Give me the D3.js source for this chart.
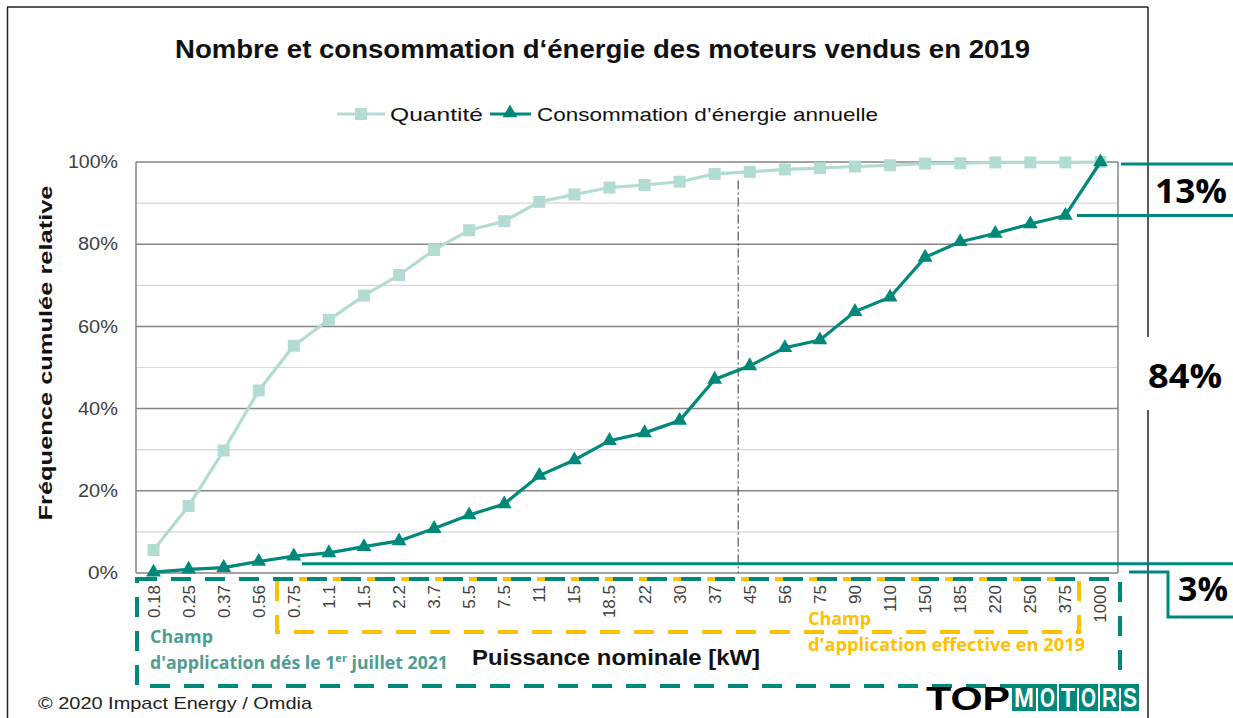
<!DOCTYPE html>
<html>
<head>
<meta charset="utf-8">
<script src="https://cdn.jsdelivr.net/npm/d3@7"></script>
<style>
  body { margin: 0; background: #fff; }
  text { font-family: "Liberation Sans", Arial, sans-serif; }
  .calibri { font-family: "Open Sans", "Noto Sans", sans-serif; }
</style>
</head>
<body>
<div id="chart"></div>
<script>
// values (cumulative %)
var categories = ["0.18", "0.25", "0.37", "0.56", "0.75", "1.1", "1.5", "2.2", "3.7", "5.5", "7.5", "11", "15", "18.5",
  "22", "30", "37", "45", "56", "75", "90", "110", "150", "185", "220", "250", "375", "1000"];
var quantite = [5.6, 16.3, 29.8, 44.4, 55.3, 61.6, 67.5, 72.5, 78.6, 83.4, 85.6, 90.3, 92.1, 93.8,
  94.4, 95.2, 97.1, 97.6, 98.2, 98.5, 98.9, 99.2, 99.6, 99.7, 99.9, 99.9, 99.9, 100];
var consommation = [0.2, 0.9, 1.3, 2.8, 4.1, 4.9, 6.4, 7.8, 10.8, 14.1, 16.8, 23.7, 27.5, 32.2,
  34.1, 37.1, 47.1, 50.4, 54.8, 56.7, 63.6, 67.1, 76.8, 80.6, 82.6, 84.9, 87.0, 100];
var yTicks = [0, 20, 40, 60, 80, 100];
var yMinor = [10, 30, 50, 70, 90];
var seriesNames = ["Quantité", "Consommation d’énergie annuelle"];
var shares = [{label: "13%", top: 100, bottom: 87}, {label: "84%", top: 87, bottom: 3}, {label: "3%", top: 3, bottom: 0}];

var W = 1233, H = 718;
var light = "#b2dcd3", dark = "#00897b", yellow = "#ffc000", grey = "#404040";

var svg = d3.select("#chart").append("svg")
  .attr("width", W)
  .attr("height", H);

// helper: text stretched to the width it has in the picture
function label(xp, yp, str, size, len, opts) {
  opts = opts || {};
  var t = svg.append("text").attr("x", xp).attr("y", yp)
    .style("font-size", size + "px")
    .attr("fill", opts.fill || "#111")
    .attr("font-weight", opts.bold ? "bold" : null)
    .attr("text-anchor", opts.anchor || "start")
    .text(str);
  if (opts.cls) t.attr("class", opts.cls);
  if (len) t.attr("textLength", len).attr("lengthAdjust", "spacingAndGlyphs");
  return t;
}

// outer frame of the chart
svg.append("line").attr("x1", 7).attr("y1", 7).attr("x2", 1148).attr("y2", 7).attr("stroke", "#222").attr("stroke-width", 1.5);
svg.append("line").attr("x1", 7.5).attr("y1", 7).attr("x2", 7.5).attr("y2", H).attr("stroke", "#222").attr("stroke-width", 1.5);
svg.append("line").attr("x1", 1148).attr("y1", 7).attr("x2", 1148).attr("y2", 337).attr("stroke", "#222").attr("stroke-width", 1.5);
svg.append("line").attr("x1", 1148).attr("y1", 410).attr("x2", 1148).attr("y2", H).attr("stroke", "#222").attr("stroke-width", 1.5);

var x = d3.scaleBand().domain(categories).range([136, 1118]);
var y = d3.scaleLinear().domain([0, 100]).range([573, 162]);
var cx = function(i) { return x(categories[i]) + x.bandwidth() / 2; };

// gridlines
svg.selectAll(".minor").data(yMinor).enter().append("line")
  .attr("x1", 136).attr("x2", 1118)
  .attr("y1", function(d) { return y(d); }).attr("y2", function(d) { return y(d); })
  .attr("stroke", "#d6d6d6").attr("stroke-width", 1.2);
svg.selectAll(".major").data(yTicks).enter().append("line")
  .attr("x1", 136).attr("x2", 1118)
  .attr("y1", function(d) { return y(d); }).attr("y2", function(d) { return y(d); })
  .attr("stroke", "#858585").attr("stroke-width", 1.5);
svg.append("line").attr("x1", 136).attr("x2", 136).attr("y1", 162).attr("y2", 573).attr("stroke", "#858585").attr("stroke-width", 1.5);
svg.append("line").attr("x1", 1118).attr("x2", 1118).attr("y1", 162).attr("y2", 573).attr("stroke", "#858585").attr("stroke-width", 1.5);

// y axis
var yAxis = svg.append("g")
  .attr("transform", "translate(136,0)")
  .call(d3.axisLeft(y).tickValues(yTicks).tickSize(0).tickPadding(18).tickFormat(function(d) { return d + "%"; }));
yAxis.select(".domain").remove();
yAxis.selectAll("text").style("font-size", "18px").attr("fill", grey)
  .attr("textLength", function(d) { return d === 100 ? 50 : (d === 0 ? 30 : 40); })
  .attr("lengthAdjust", "spacingAndGlyphs");

// x axis
var xAxis = svg.append("g")
  .attr("transform", "translate(0,573)")
  .call(d3.axisBottom(x).tickSize(0).tickPadding(0));
xAxis.select(".domain").remove();
xAxis.selectAll("text")
  .style("font-size", "17px")
  .attr("fill", grey)
  .attr("text-anchor", "end")
  .attr("dy", null)
  .attr("y", 0)
  .attr("transform", "translate(6,12) rotate(-90)");

// dash-dot separator
svg.append("line")
  .attr("x1", x("45") + 6).attr("x2", x("45") + 6)
  .attr("y1", y(95.5)).attr("y2", y(0))
  .attr("stroke", "#555").attr("stroke-width", 1.2)
  .attr("stroke-dasharray", "9,3,2,3");

// series
var line = d3.line().x(function(d, i) { return cx(i); }).y(function(d) { return y(d); });
svg.append("path").datum(quantite).attr("d", line).attr("fill", "none").attr("stroke", light).attr("stroke-width", 3.2);
svg.selectAll(".sq").data(quantite).enter().append("rect")
  .attr("x", function(d, i) { return cx(i) - 6; })
  .attr("y", function(d) { return y(d) - 6; })
  .attr("width", 12).attr("height", 12).attr("fill", light);

svg.append("path").datum(consommation).attr("d", line).attr("fill", "none").attr("stroke", dark).attr("stroke-width", 3.2);
var tri = d3.symbol().type(d3.symbolTriangle).size(95);
svg.selectAll(".tri").data(consommation).enter().append("path")
  .attr("d", tri)
  .attr("transform", function(d, i) { return "translate(" + cx(i) + "," + y(d) + ")"; })
  .attr("fill", dark);

// title
label(175, 58, "Nombre et consommation d‘énergie des moteurs vendus en 2019", 25, 855, {bold: true});

// legend
var lg = svg.append("g");
lg.append("line").attr("x1", 337).attr("x2", 385).attr("y1", 114).attr("y2", 114).attr("stroke", light).attr("stroke-width", 3.2);
lg.append("rect").attr("x", 355).attr("y", 108).attr("width", 12).attr("height", 12).attr("fill", light);
label(390, 121, seriesNames[0], 19, 93);
lg.append("line").attr("x1", 490).attr("x2", 531).attr("y1", 114).attr("y2", 114).attr("stroke", dark).attr("stroke-width", 3.2);
lg.append("path").attr("d", tri).attr("transform", "translate(510,113)").attr("fill", dark);
label(537, 121, seriesNames[1], 19, 341);

// axis titles
label(0, 0, "Fréquence cumulée relative", 19, 335, {bold: true, anchor: "middle"})
  .attr("transform", "translate(52,353) rotate(-90)");
label(472, 665, "Puissance nominale [kW]", 22, 288, {bold: true});

// dashed scope boxes
svg.append("rect").attr("x", 277).attr("y", 579).attr("width", 802).attr("height", 53)
  .attr("fill", "none").attr("stroke", yellow).attr("stroke-width", 4)
  .attr("stroke-dasharray", "20,14").attr("stroke-dashoffset", 12);
svg.append("rect").attr("x", 137).attr("y", 579).attr("width", 983).attr("height", 107)
  .attr("fill", "none").attr("stroke", dark).attr("stroke-width", 4)
  .attr("stroke-dasharray", "20,14").attr("stroke-dashoffset", 0);

var teal2 = "#4f9c91";
label(150, 643, "Champ", 17.5, 63, {bold: true, fill: teal2, cls: "calibri"});
var t1 = svg.append("text").attr("class", "calibri").attr("fill", teal2).attr("font-weight", "bold").style("font-size", "17.5px");
t1.append("tspan").attr("x", 150).attr("y", 669).text("d'application dés le 1");
t1.append("tspan").attr("dy", -7).style("font-size", "11px").text("er");
t1.append("tspan").attr("dy", 7).text(" juillet 2021");
t1.attr("textLength", 298).attr("lengthAdjust", "spacingAndGlyphs");

label(808, 625, "Champ", 17.5, 63, {bold: true, fill: yellow, cls: "calibri"});
label(808, 651, "d'application effective  en 2019", 17.5, 277, {bold: true, fill: yellow, cls: "calibri"});

// share brackets on the right
var b13 = shares[0], b3 = shares[2];
svg.append("line").attr("x1", 1121).attr("x2", W).attr("y1", y(b13.top) + 2).attr("y2", y(b13.top) + 2).attr("stroke", dark).attr("stroke-width", 3);
svg.append("line").attr("x1", 1077).attr("x2", W).attr("y1", y(b13.bottom)).attr("y2", y(b13.bottom)).attr("stroke", dark).attr("stroke-width", 3);
svg.append("line").attr("x1", 302).attr("x2", W).attr("y1", y(b3.top) + 3).attr("y2", y(b3.top) + 3).attr("stroke", dark).attr("stroke-width", 3);
svg.append("path").attr("d", "M1129," + (y(b3.bottom) - 1) + "H1168V617H" + W)
  .attr("fill", "none").attr("stroke", dark).attr("stroke-width", 3);

label(1155, 203, shares[0].label, 34, 72, {bold: true, fill: "#000", cls: "calibri"});
label(1148, 388, shares[1].label, 34, 74, {bold: true, fill: "#000", cls: "calibri"});
label(1178, 601, shares[2].label, 34, 50, {bold: true, fill: "#000", cls: "calibri"});

// footer
label(38, 709, "© 2020 Impact Energy / Omdia", 17, 274, {fill: "#222"});

// logo
label(926, 710, "TOP", 34, 84, {bold: true, fill: "#000"});
var letters = "MOTORS".split("");
var lw = [24, 19, 18, 19, 19, 18];
var lx = 1012;
letters.forEach(function(c, i) {
  svg.append("rect").attr("x", lx).attr("y", 684).attr("width", lw[i]).attr("height", 27).attr("fill", dark);
  svg.append("text").attr("x", lx + lw[i] / 2).attr("y", 707).attr("text-anchor", "middle")
    .style("font-size", "27px").attr("font-weight", "bold").attr("fill", "#fff")
    .attr("textLength", lw[i] - 4).attr("lengthAdjust", "spacingAndGlyphs").text(c);
  lx += lw[i] + 2;
});
</script>
</body>
</html>
